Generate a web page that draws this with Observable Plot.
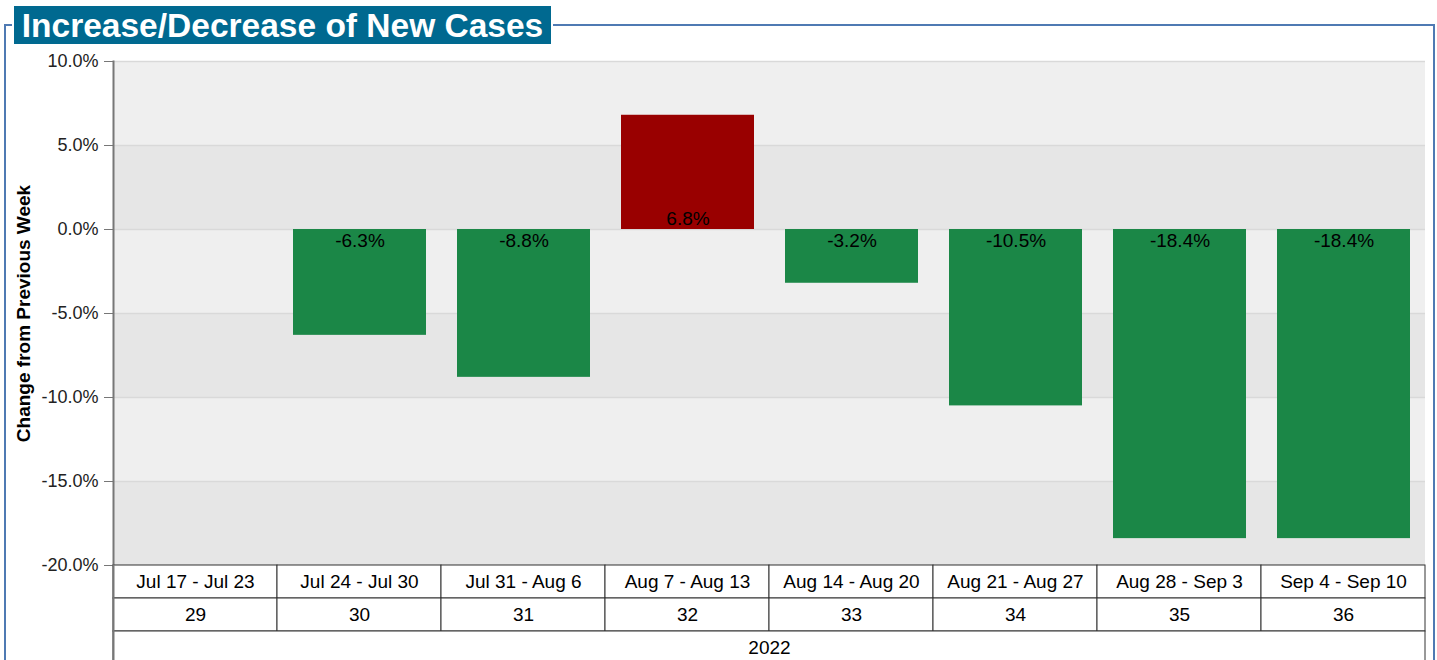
<!DOCTYPE html>
<html>
<head>
<meta charset="utf-8">
<script src="https://cdn.jsdelivr.net/npm/d3@7"></script>
<script src="https://cdn.jsdelivr.net/npm/@observablehq/plot@0.6"></script>
<style>
  html, body { margin: 0; padding: 0; background: white; overflow: hidden; }
  #wrap { position: relative; width: 1437px; height: 660px; font-family: "Liberation Sans", Arial, sans-serif; }
  #frame { position: absolute; left: 4px; top: 24px; width: 1431px; height: 700px; border: 2px solid #4f7ab3; box-sizing: border-box; }
  #title { position: absolute; left: 12px; top: 4px; height: 38px; width: 537px; box-sizing: content-box; background: #006990; border: 2px solid white;
           color: white; font-weight: bold; font-size: 33.5px; line-height: 40px; white-space: nowrap; text-align: center; }
  #chart { position: absolute; left: 0; top: 0; }
  #table { position: absolute; left: 0; top: 565px; }
  svg { overflow: visible; }
</style>
</head>
<body>
<div id="wrap">
  <div id="frame"></div>
  <div id="title">Increase/Decrease of New Cases</div>
  <div id="chart"></div>
  <div id="table"></div>
</div>
<script>
const weekLabels = ["Jul 17 - Jul 23", "Jul 24 - Jul 30", "Jul 31 - Aug 6", "Aug 7 - Aug 13", "Aug 14 - Aug 20", "Aug 21 - Aug 27", "Aug 28 - Sep 3", "Sep 4 - Sep 10"];
const weekNumbers = [29, 30, 31, 32, 33, 34, 35, 36];
const changes = [null, -6.3, -8.8, 6.8, -3.2, -10.5, -18.4, -18.4];
const yearLabel = "2022";
const yTicks = [-20, -15, -10, -5, 0, 5, 10];
const yTitle = "Change from Previous Week";

const data = weekLabels.map((label, i) => ({label, week: weekNumbers[i], change: changes[i]}));
const withValues = data.filter(d => d.change != null);
const bands = yTicks.slice(0, -1).map((lo, i) => ({lo, hi: yTicks[i + 1], shade: i % 2 === 0 ? "#e6e6e6" : "#efefef"}));
const fmt = v => v.toFixed(1) + "%";

const chart = Plot.plot({
  width: 1437,
  height: 575,
  marginLeft: 113,
  marginRight: 12,
  marginTop: 61,
  marginBottom: 10,
  style: {fontFamily: "'Liberation Sans', Arial, sans-serif", fontSize: "18px", color: "#222", background: "transparent"},
  x: {domain: weekLabels, paddingInner: 0.19, paddingOuter: 0.095, axis: null},
  y: {domain: [-20, 10], ticks: yTicks, tickFormat: fmt, label: null},
  marks: [
    Plot.rectY(bands, {y1: "lo", y2: "hi", fill: "shade"}),
    Plot.ruleY(yTicks, {stroke: "#d9d9d9", strokeWidth: 1.5}),
    Plot.barY(withValues, {x: "label", y: "change", fill: d => d.change > 0 ? "#990000" : "#1b8747"}),
    Plot.text(withValues.filter(d => d.change < 0), {x: "label", y: () => 0, text: d => fmt(d.change), dy: 11, fill: "black", fontSize: 19}),
    Plot.text(withValues.filter(d => d.change > 0), {x: "label", y: () => 0, text: d => fmt(d.change), dy: -11, fill: "black", fontSize: 19}),
    Plot.axisY({ticks: yTicks, tickFormat: fmt, tickSize: 9, tickPadding: 6, stroke: "#777", label: null, fontSize: 18}),
    Plot.frame({anchor: "left", stroke: "#777", strokeWidth: 2}),
    Plot.text([yTitle], {frameAnchor: "left", rotate: -90, dx: -90, textAnchor: "middle", fontWeight: "bold", fontSize: 19, fill: "black"})
  ]
});
document.getElementById("chart").appendChild(chart);

const rows = ["label", "week", "year"];
const table = Plot.plot({
  width: 1437,
  height: 99,
  marginLeft: 113,
  marginRight: 12,
  marginTop: 0,
  marginBottom: 0,
  style: {fontFamily: "'Liberation Sans', Arial, sans-serif", fontSize: "19px", color: "black", background: "transparent"},
  x: {domain: weekLabels, padding: 0, axis: null},
  y: {domain: rows, padding: 0, axis: null},
  marks: [
    Plot.cell(data, {x: "label", y: () => "label", fill: "white", stroke: "#333"}),
    Plot.cell(data, {x: "label", y: () => "week", fill: "white", stroke: "#333"}),
    Plot.cell([yearLabel], {y: () => "year", fill: "white", stroke: "#333"}),
    Plot.text(data, {x: "label", y: () => "label", text: "label", fill: "black", fontSize: 19}),
    Plot.text(data, {x: "label", y: () => "week", text: d => String(d.week), fill: "black", fontSize: 19}),
    Plot.text([yearLabel], {y: () => "year", frameAnchor: "middle", text: d => d, fill: "black", fontSize: 19}),
    Plot.frame({anchor: "left", stroke: "#777", strokeWidth: 2})
  ]
});
document.getElementById("table").appendChild(table);
</script>
</body>
</html>
